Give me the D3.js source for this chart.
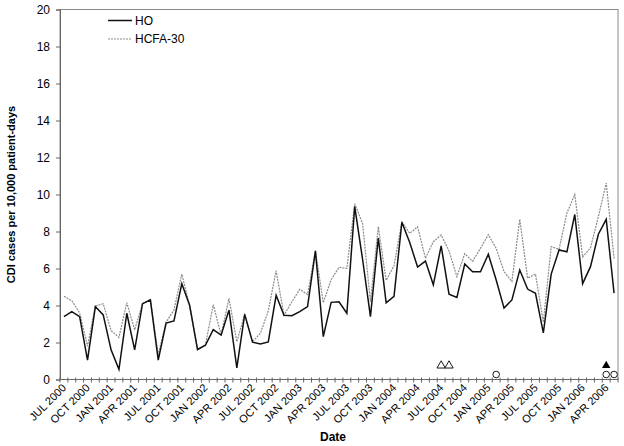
<!DOCTYPE html>
<html>
<head>
<meta charset="utf-8">
<script src="https://cdn.jsdelivr.net/npm/d3@7"></script>
<style>
  body { margin: 0; background: #fff; }
  svg { font-family: "Liberation Sans", Arial, sans-serif; }
</style>
</head>
<body>
<svg id="chart" width="624" height="446"></svg>
<script>
// monthly categories, JUL 2000 .. MAY 2006
const months = d3.timeMonth.range(new Date(2000, 6, 1), new Date(2006, 5, 1));

const hoValues = [
  3.4, 3.67, 3.4, 1.05, 3.94, 3.49, 1.6, 0.55, 3.58, 1.6, 4.1, 4.3,
  1.05, 3.05, 3.17, 5.18, 4.0, 1.62, 1.85, 2.7, 2.4, 3.75, 0.63, 3.52,
  2.02, 1.92, 2.03, 4.55, 3.47, 3.45, 3.67, 3.94, 6.95, 2.32, 4.17, 4.2,
  3.58, 9.35, 6.5, 3.4, 7.65, 4.15, 4.5, 8.5, 7.4, 6.08, 6.4, 5.12,
  7.22, 4.61, 4.44, 6.24, 5.82, 5.82, 6.77, 5.38, 3.86, 4.3, 5.92, 4.89,
  4.66, 2.52, 5.7, 7.0, 6.9, 8.92, 5.18, 6.1, 7.85, 8.66, 4.67
];

const hcfaValues = [
  4.5, 4.26, 3.6, 1.8, 3.97, 4.1, 2.64, 2.28, 4.15, 2.68, 4.1, 4.33,
  1.35, 3.1, 3.75, 5.7, 3.97, 1.62, 1.85, 4.05, 2.4, 4.39, 2.04, 3.52,
  2.04, 2.5, 3.7, 5.88, 3.47, 4.2, 4.87, 4.6, 6.96, 4.15, 5.4, 6.06,
  6.01, 9.5, 8.44, 4.2, 8.26, 5.36, 6.15, 8.52, 7.9, 8.25, 6.55, 7.45,
  7.81, 6.95, 5.56, 6.8, 6.39, 7.09, 7.83, 7.09, 5.83, 5.3, 8.66, 5.48,
  5.7, 3.1, 7.18, 7.04, 9.0, 10.0, 6.62, 7.12, 8.8, 10.62, 6.55
];

const tickLabels = [
  "JUL 2000", "OCT 2000", "JAN 2001", "APR 2001", "JUL 2001", "OCT 2001",
  "JAN 2002", "APR 2002", "JUL 2002", "OCT 2002", "JAN 2003", "APR 2003",
  "JUL 2003", "OCT 2003", "JAN 2004", "APR 2004", "JUL 2004", "OCT 2004",
  "JAN 2005", "APR 2005", "JUL 2005", "OCT 2005", "JAN 2006", "APR 2006"
];

const yTicks = [0, 2, 4, 6, 8, 10, 12, 14, 16, 18, 20];

// event markers near the x axis: [month index, value]
const openTriangles = [[48, 0.75], [49, 0.75]];
const filledTriangles = [[69, 0.75]];
const openCircles = [[55, 0.27], [69, 0.27], [70, 0.27]];

const series = [
  { name: "HO", values: hoValues, color: "#111", width: 1.5, dash: null },
  { name: "HCFA-30", values: hcfaValues, color: "#8c8c8c", width: 1.2, dash: "2,1" }
];

const svg = d3.select("#chart");
const margin = { top: 9.5, right: 6, bottom: 66.5, left: 60 };
const width = +svg.attr("width") - margin.left - margin.right;
const height = +svg.attr("height") - margin.top - margin.bottom;

const g = svg.append("g")
  .attr("transform", `translate(${margin.left},${margin.top})`);

const x = d3.scaleBand()
  .domain(d3.range(months.length))
  .range([0, width])
  .padding(0);
const cx = (i) => x(i) + x.bandwidth() / 2;

const y = d3.scaleLinear().domain([0, 20]).range([height, 0]);

// plot frame
g.append("rect")
  .attr("x", 0).attr("y", 0)
  .attr("width", width).attr("height", height)
  .attr("fill", "none")
  .attr("stroke", "#8a8a8a")
  .attr("stroke-width", 1);

// y axis
const yAxis = g.append("g")
  .call(d3.axisLeft(y).tickValues(yTicks).tickSize(4).tickPadding(6));
yAxis.select(".domain").attr("stroke", "#666");
yAxis.selectAll(".tick line").attr("stroke", "#666");
yAxis.selectAll("text").attr("font-size", "12px").attr("fill", "#000");

// x axis line and category ticks
g.append("line")
  .attr("x1", 0).attr("x2", width)
  .attr("y1", height).attr("y2", height)
  .attr("stroke", "#666");

g.selectAll(".xtick")
  .data(d3.range(months.length + 1))
  .enter()
  .append("line")
  .attr("x1", (d) => d * x.step())
  .attr("x2", (d) => d * x.step())
  .attr("y1", height - 2)
  .attr("y2", height + 3)
  .attr("stroke", "#666");

g.selectAll(".xlabel")
  .data(tickLabels)
  .enter()
  .append("text")
  .attr("transform", (d, i) => `translate(${cx(i * 3) + 3},${height + 9}) rotate(-45)`)
  .attr("text-anchor", "end")
  .attr("font-size", "11px")
  .attr("fill", "#000")
  .text((d) => d);

// lines
const line = d3.line()
  .x((d, i) => cx(i))
  .y((d) => y(d));

series.slice().reverse().forEach((s) => {
  g.append("path")
    .datum(s.values)
    .attr("fill", "none")
    .attr("stroke", s.color)
    .attr("stroke-width", s.width)
    .attr("stroke-dasharray", s.dash)
    .attr("stroke-linejoin", "miter")
    .attr("d", line);
});

// markers
const tri = d3.symbol().type(d3.symbolTriangle).size(30);
g.selectAll(".otri")
  .data(openTriangles)
  .enter()
  .append("path")
  .attr("d", tri)
  .attr("transform", (d) => `translate(${cx(d[0])},${y(d[1])})`)
  .attr("fill", "#fff")
  .attr("stroke", "#000")
  .attr("stroke-width", 0.9);

g.selectAll(".ftri")
  .data(filledTriangles)
  .enter()
  .append("path")
  .attr("d", tri)
  .attr("transform", (d) => `translate(${cx(d[0])},${y(d[1])})`)
  .attr("fill", "#000");

g.selectAll(".ocirc")
  .data(openCircles)
  .enter()
  .append("circle")
  .attr("cx", (d) => cx(d[0]))
  .attr("cy", (d) => y(d[1]))
  .attr("r", 3.3)
  .attr("fill", "#fff")
  .attr("stroke", "#000")
  .attr("stroke-width", 0.9);

// legend
const legend = g.selectAll(".legend")
  .data(series)
  .enter()
  .append("g")
  .attr("transform", (d, i) => `translate(48,${11 + i * 18.5})`);

legend.append("line")
  .attr("x1", 0).attr("x2", 24)
  .attr("stroke", (d) => d.color)
  .attr("stroke-width", (d) => d.width)
  .attr("stroke-dasharray", (d) => d.dash);

legend.append("text")
  .attr("x", 27)
  .attr("dy", "0.35em")
  .attr("font-size", "12px")
  .attr("fill", "#000")
  .text((d) => d.name);

// axis titles
svg.append("text")
  .attr("transform", `translate(15,${margin.top + height / 2}) rotate(-90)`)
  .attr("text-anchor", "middle")
  .attr("font-size", "11px")
  .attr("font-weight", "bold")
  .text("CDI cases per 10,000 patient-days");

svg.append("text")
  .attr("x", 333)
  .attr("y", 441)
  .attr("text-anchor", "middle")
  .attr("font-size", "12px")
  .attr("font-weight", "bold")
  .text("Date");
</script>
</body>
</html>
